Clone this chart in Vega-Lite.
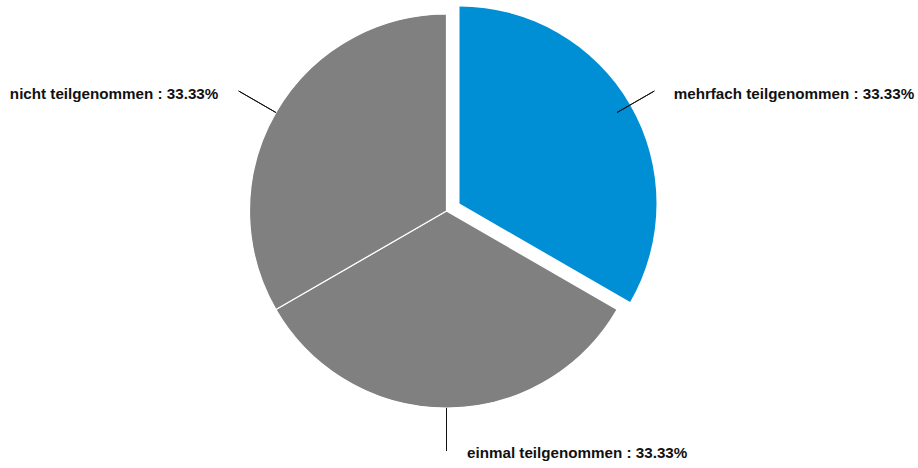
{
  "$schema": "https://vega.github.io/schema/vega-lite/v6.json",
  "autosize": "none",
  "width": 893,
  "height": 422,
  "padding": {"left": 0, "top": 0, "right": 25, "bottom": 46},
  "background": "white",
  "view": {"stroke": null},
  "data": {
    "values": [
      {"label": "mehrfach teilgenommen", "share": 33.33},
      {"label": "einmal teilgenommen", "share": 33.33},
      {"label": "nicht teilgenommen", "share": 33.33}
    ]
  },
  "transform": [
    {"window": [{"op": "row_number", "as": "ord"}]},
    {"calculate": "datum.label + ' : ' + format(datum.share, '.2f') + '%'", "as": "text"}
  ],
  "encoding": {
    "theta": {"field": "share", "type": "quantitative", "stack": true},
    "order": {"field": "ord", "type": "quantitative"},
    "detail": {"field": "label", "type": "nominal"}
  },
  "layer": [
    {
      "mark": {"type": "arc", "outerRadius": 197, "stroke": "white", "strokeWidth": 1.2},
      "encoding": {
        "color": {
          "field": "label",
          "type": "nominal",
          "scale": {
            "domain": ["mehrfach teilgenommen", "einmal teilgenommen", "nicht teilgenommen"],
            "range": ["#008fd5", "#808080", "#808080"]
          },
          "legend": null
        },
        "opacity": {"condition": {"test": "datum.label == 'mehrfach teilgenommen'", "value": 0}, "value": 1}
      }
    },
    {
      "mark": {"type": "arc", "outerRadius": 197, "xOffset": 13, "yOffset": -7.5},
      "encoding": {
        "color": {"field": "label", "type": "nominal", "legend": null},
        "opacity": {"condition": {"test": "datum.label == 'mehrfach teilgenommen'", "value": 1}, "value": 0}
      }
    },
    {
      "mark": {"type": "arc", "outerRadius": 240, "innerRadius": 197, "padAngle": 3, "fill": null, "stroke": "#111111", "strokeWidth": 1}
    },
    {
      "mark": {"type": "text", "radius": 245, "align": "left", "baseline": "alphabetic", "dx": 15, "dy": 10.5, "font": "Liberation Sans", "fontWeight": "bold", "fontSize": 15.2, "fill": "#111111"},
      "encoding": {
        "text": {"condition": {"test": "datum.label == 'mehrfach teilgenommen'", "field": "text"}, "value": ""}
      }
    },
    {
      "mark": {"type": "text", "radius": 245, "align": "left", "baseline": "alphabetic", "dx": 20.5, "dy": 1.5, "font": "Liberation Sans", "fontWeight": "bold", "fontSize": 15.2, "fill": "#111111"},
      "encoding": {
        "text": {"condition": {"test": "datum.label == 'einmal teilgenommen'", "field": "text"}, "value": ""}
      }
    },
    {
      "mark": {"type": "text", "radius": 245, "align": "right", "baseline": "alphabetic", "dx": -16, "dy": 10.5, "font": "Liberation Sans", "fontWeight": "bold", "fontSize": 15.2, "fill": "#111111"},
      "encoding": {
        "text": {"condition": {"test": "datum.label == 'nicht teilgenommen'", "field": "text"}, "value": ""}
      }
    }
  ]
}
